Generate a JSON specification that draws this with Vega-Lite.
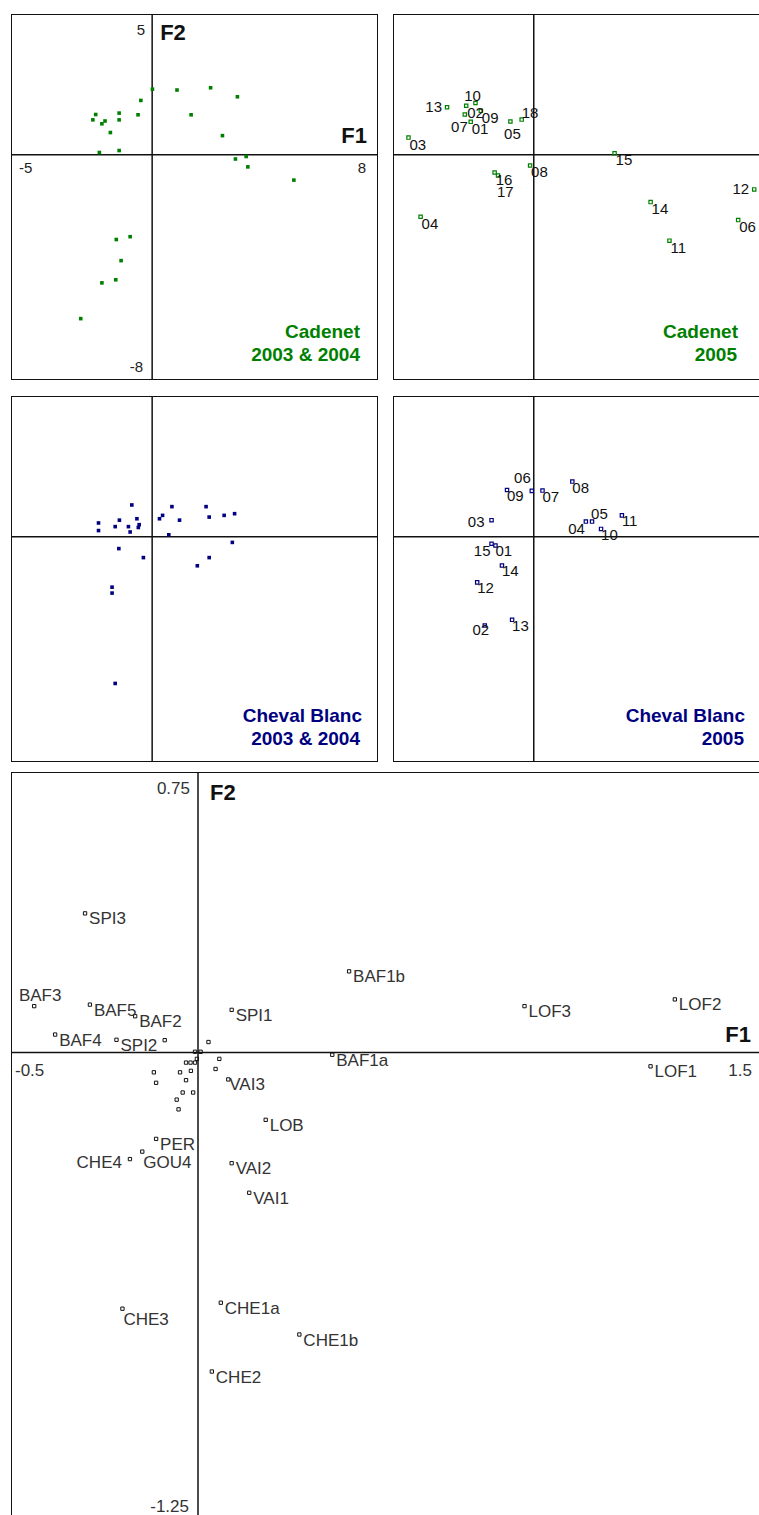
{
"$schema": "https://vega.github.io/schema/vega-lite/v6.json",
"padding": {"left": 11, "top": 14, "right": 0, "bottom": 0},
"background": "white",
"config": {"view": {"stroke": null}},
"spacing": 10,
"datasets": {
"cad0304": [
{"F1":0.01,"F2":2.33},{"F1":0.88,"F2":2.30},{"F1":2.07,"F2":2.38},{"F1":3.02,"F2":2.06},{"F1":-0.40,"F2":1.93},
{"F1":-2.00,"F2":1.43},{"F1":-2.10,"F2":1.24},{"F1":-1.78,"F2":1.10},{"F1":-1.67,"F2":1.20},{"F1":-1.17,"F2":1.48},
{"F1":-1.17,"F2":1.24},{"F1":-0.50,"F2":1.42},{"F1":1.38,"F2":1.42},{"F1":-1.48,"F2":0.79},{"F1":2.49,"F2":0.68},
{"F1":-1.87,"F2":0.08},{"F1":-1.17,"F2":0.15},{"F1":3.33,"F2":-0.06},{"F1":2.95,"F2":-0.15},{"F1":3.39,"F2":-0.43},
{"F1":5.02,"F2":-0.90},{"F1":-1.27,"F2":-3.01},{"F1":-0.78,"F2":-2.91},{"F1":-1.10,"F2":-3.76},{"F1":-1.78,"F2":-4.55},
{"F1":-1.29,"F2":-4.44},{"F1":-2.53,"F2":-5.82}
],
"cad05": [
{"id":"13","F1":-3.08,"F2":1.69},{"id":"10","F1":-2.07,"F2":1.84},{"id":"02","F1":-2.40,"F2":1.74},
{"id":"07","F1":-2.45,"F2":1.43},{"id":"09","F1":-1.88,"F2":1.56},{"id":"01","F1":-2.24,"F2":1.17},
{"id":"05","F1":-0.83,"F2":1.18},{"id":"18","F1":-0.43,"F2":1.25},{"id":"03","F1":-4.45,"F2":0.61},
{"id":"15","F1":2.87,"F2":0.05},{"id":"08","F1":-0.13,"F2":-0.38},{"id":"16","F1":-1.39,"F2":-0.63},
{"id":"17","F1":-1.27,"F2":-0.74},{"id":"04","F1":-4.02,"F2":-2.20},{"id":"12","F1":7.83,"F2":-1.23},
{"id":"14","F1":4.15,"F2":-1.68},{"id":"06","F1":7.26,"F2":-2.32},{"id":"11","F1":4.82,"F2":-3.05}
],
"cb0304": [
{"F1":-0.72,"F2":1.13},{"F1":0.70,"F2":1.07},{"F1":1.91,"F2":1.07},{"F1":0.37,"F2":0.76},{"F1":0.26,"F2":0.64},
{"F1":2.02,"F2":0.70},{"F1":2.55,"F2":0.76},{"F1":2.92,"F2":0.82},{"F1":0.97,"F2":0.59},{"F1":-1.16,"F2":0.59},
{"F1":-0.54,"F2":0.64},{"F1":-0.46,"F2":0.43},{"F1":-0.49,"F2":0.33},{"F1":-1.90,"F2":0.49},{"F1":-1.90,"F2":0.22},
{"F1":-1.31,"F2":0.36},{"F1":-0.84,"F2":0.36},{"F1":-0.78,"F2":0.17},{"F1":0.59,"F2":0.07},{"F1":-1.18,"F2":-0.42},
{"F1":-0.31,"F2":-0.74},{"F1":2.02,"F2":-0.74},{"F1":1.60,"F2":-1.03},{"F1":2.84,"F2":-0.20},{"F1":-1.42,"F2":-1.79},
{"F1":-1.42,"F2":-2.00},{"F1":-1.31,"F2":-5.21}
],
"cb05": [
{"id":"06","F1":-0.07,"F2":1.63},{"id":"09","F1":-0.95,"F2":1.66},{"id":"07","F1":0.31,"F2":1.64},
{"id":"08","F1":1.37,"F2":1.96},{"id":"03","F1":-1.50,"F2":0.59},{"id":"05","F1":2.07,"F2":0.54},
{"id":"04","F1":1.85,"F2":0.54},{"id":"11","F1":3.13,"F2":0.76},{"id":"10","F1":2.39,"F2":0.28},
{"id":"15","F1":-1.50,"F2":-0.25},{"id":"01","F1":-1.36,"F2":-0.31},{"id":"14","F1":-1.13,"F2":-1.02},
{"id":"12","F1":-2.01,"F2":-1.62},{"id":"02","F1":-1.74,"F2":-3.15},{"id":"13","F1":-0.77,"F2":-2.95}
],
"vars": [
{"id":"SPI3","F1":-0.302,"F2":0.372},{"id":"BAF3","F1":-0.438,"F2":0.124},{"id":"BAF5","F1":-0.289,"F2":0.128},
{"id":"BAF2","F1":-0.168,"F2":0.097},{"id":"BAF4","F1":-0.382,"F2":0.048},{"id":"SPI2","F1":-0.218,"F2":0.034},
{"id":"SPI1","F1":0.090,"F2":0.114},
{"id":"BAF1b","F1":0.404,"F2":0.217},{"id":"BAF1a","F1":0.359,"F2":-0.006},{"id":"VAI3","F1":0.081,"F2":-0.072},
{"id":"LOB","F1":0.181,"F2":-0.180},
{"id":"PER","F1":-0.112,"F2":-0.231},{"id":"GOU4","F1":-0.149,"F2":-0.265},{"id":"CHE4","F1":-0.182,"F2":-0.285},
{"id":"VAI2","F1":0.090,"F2":-0.296},{"id":"VAI1","F1":0.137,"F2":-0.375},{"id":"CHE3","F1":-0.202,"F2":-0.685},
{"id":"CHE1a","F1":0.061,"F2":-0.669},{"id":"CHE1b","F1":0.271,"F2":-0.754},{"id":"CHE2","F1":0.037,"F2":-0.853},
{"id":"LOF3","F1":0.873,"F2":0.124},{"id":"LOF2","F1":1.275,"F2":0.142},{"id":"LOF1","F1":1.210,"F2":-0.037}
],
"varsUnlabelled": [
{"F1":-0.089,"F2":0.033},{"F1":0.028,"F2":0.028},
{"F1":-0.008,"F2":0.002},{"F1":0.007,"F2":0.002},{"F1":0.057,"F2":-0.017},
{"F1":0.047,"F2":-0.044},{"F1":-0.032,"F2":-0.027},{"F1":-0.020,"F2":-0.027},
{"F1":-0.008,"F2":-0.027},{"F1":-0.003,"F2":-0.017},{"F1":-0.118,"F2":-0.053},
{"F1":-0.048,"F2":-0.053},{"F1":-0.019,"F2":-0.049},{"F1":-0.112,"F2":-0.081},
{"F1":-0.032,"F2":-0.074},{"F1":-0.041,"F2":-0.107},{"F1":-0.013,"F2":-0.107},
{"F1":-0.057,"F2":-0.126},{"F1":-0.052,"F2":-0.152}
]
},
"vconcat": [
{"vconcat": [
{"hconcat": [
{"width": 367, "height": 366, "layer": [
{"data":{"values":[{}]},"mark":{"type":"rule","color":"#111","strokeWidth":2,"clip":true},"encoding":{"x":{"datum":-5,"type":"quantitative","scale":{"domain":[-5,8],"nice":false,"zero":false},"axis":null}}},
{"data":{"values":[{}]},"mark":{"type":"rule","color":"#111","strokeWidth":2,"clip":true},"encoding":{"x":{"datum":8,"type":"quantitative","axis":null}}},
{"data":{"values":[{}]},"mark":{"type":"rule","color":"#111","strokeWidth":2,"clip":true},"encoding":{"y":{"datum":5,"type":"quantitative","scale":{"domain":[-8,5],"nice":false,"zero":false},"axis":null}}},
{"data":{"values":[{}]},"mark":{"type":"rule","color":"#111","strokeWidth":2,"clip":true},"encoding":{"y":{"datum":-8,"type":"quantitative","axis":null}}},
{"data":{"values":[{}]},"mark":{"type":"rule","color":"#111","strokeWidth":1.5,"clip":true},"encoding":{"x":{"datum":0,"type":"quantitative","axis":null}}},
{"data":{"values":[{}]},"mark":{"type":"rule","color":"#111","strokeWidth":1.5,"clip":true},"encoding":{"y":{"datum":0,"type":"quantitative","axis":null}}},
{"data":{"name":"cad0304"},"mark":{"type":"square","filled":true,"color":"#008000","size":13,"opacity":1,"clip":true},"encoding":{"x":{"field":"F1","type":"quantitative","axis":null},"y":{"field":"F2","type":"quantitative","axis":null}}},
{"data":{"values":[{}]},"mark":{"type":"text","text":"5","align":"right","baseline":"middle","dx":-7,"dy":16,"font":"Liberation Sans","fontSize":15,"color":"#222","clip":true},"encoding":{"x":{"datum":0,"type":"quantitative"},"y":{"datum":5,"type":"quantitative"}}},
{"data":{"values":[{}]},"mark":{"type":"text","text":"F2","align":"left","baseline":"middle","dx":8,"dy":19,"font":"Liberation Sans","fontWeight":"bold","fontSize":22,"color":"#111","clip":true},"encoding":{"x":{"datum":0,"type":"quantitative"},"y":{"datum":5,"type":"quantitative"}}},
{"data":{"values":[{}]},"mark":{"type":"text","text":"F1","align":"right","baseline":"alphabetic","dx":-11,"dy":-12,"font":"Liberation Sans","fontWeight":"bold","fontSize":22,"color":"#111","clip":true},"encoding":{"x":{"datum":8,"type":"quantitative"},"y":{"datum":0,"type":"quantitative"}}},
{"data":{"values":[{}]},"mark":{"type":"text","text":"-5","align":"left","baseline":"alphabetic","dx":8,"dy":18,"font":"Liberation Sans","fontSize":15,"color":"#222","clip":true},"encoding":{"x":{"datum":-5,"type":"quantitative"},"y":{"datum":0,"type":"quantitative"}}},
{"data":{"values":[{}]},"mark":{"type":"text","text":"8","align":"right","baseline":"alphabetic","dx":-12,"dy":18,"font":"Liberation Sans","fontSize":15,"color":"#222","clip":true},"encoding":{"x":{"datum":8,"type":"quantitative"},"y":{"datum":0,"type":"quantitative"}}},
{"data":{"values":[{}]},"mark":{"type":"text","text":"-8","align":"right","baseline":"alphabetic","dx":-9,"dy":-8,"font":"Liberation Sans","fontSize":15,"color":"#222","clip":true},"encoding":{"x":{"datum":0,"type":"quantitative"},"y":{"datum":-8,"type":"quantitative"}}},
{"data":{"values":[{}]},"mark":{"type":"text","text":"Cadenet","align":"right","baseline":"alphabetic","dx":-18,"dy":-42,"font":"Liberation Sans","fontWeight":"bold","fontSize":19,"color":"#008000","clip":true},"encoding":{"x":{"datum":8,"type":"quantitative"},"y":{"datum":-8,"type":"quantitative"}}},
{"data":{"values":[{}]},"mark":{"type":"text","text":"2003 & 2004","align":"right","baseline":"alphabetic","dx":-18,"dy":-19,"font":"Liberation Sans","fontWeight":"bold","fontSize":19,"color":"#008000","clip":true},"encoding":{"x":{"datum":8,"type":"quantitative"},"y":{"datum":-8,"type":"quantitative"}}}
]},
{"width": 366, "height": 366, "layer": [
{"data":{"values":[{}]},"mark":{"type":"rule","color":"#111","strokeWidth":2,"clip":true},"encoding":{"x":{"datum":-5,"type":"quantitative","scale":{"domain":[-5,8],"nice":false,"zero":false},"axis":null}}},
{"data":{"values":[{}]},"mark":{"type":"rule","color":"#111","strokeWidth":2,"clip":true},"encoding":{"y":{"datum":5,"type":"quantitative","scale":{"domain":[-8,5],"nice":false,"zero":false},"axis":null}}},
{"data":{"values":[{}]},"mark":{"type":"rule","color":"#111","strokeWidth":2,"clip":true},"encoding":{"y":{"datum":-8,"type":"quantitative","axis":null}}},
{"data":{"values":[{}]},"mark":{"type":"rule","color":"#111","strokeWidth":1.5,"clip":true},"encoding":{"x":{"datum":0,"type":"quantitative","axis":null}}},
{"data":{"values":[{}]},"mark":{"type":"rule","color":"#111","strokeWidth":1.5,"clip":true},"encoding":{"y":{"datum":0,"type":"quantitative","axis":null}}},
{"data":{"name":"cad05"},"mark":{"type":"square","filled":false,"color":"#008000","size":11,"strokeWidth":1.2,"opacity":1,"clip":true},"encoding":{"x":{"field":"F1","type":"quantitative","axis":null},"y":{"field":"F2","type":"quantitative","axis":null}}},
{"data":{"name":"cad05"},"transform":[{"filter":{"not":{"field":"id","oneOf":["13","12","10","18","05","17","07"]}}}],"mark":{"type":"text","align":"left","baseline":"top","dx":1,"dy":0,"font":"Liberation Sans","fontSize":15,"color":"#111","clip":true},"encoding":{"x":{"field":"F1","type":"quantitative"},"y":{"field":"F2","type":"quantitative"},"text":{"field":"id"}}},
{"data":{"name":"cad05"},"transform":[{"filter":{"field":"id","oneOf":["13","12"]}}],"mark":{"type":"text","align":"right","baseline":"middle","dx":-5,"dy":0,"font":"Liberation Sans","fontSize":15,"color":"#111","clip":true},"encoding":{"x":{"field":"F1","type":"quantitative"},"y":{"field":"F2","type":"quantitative"},"text":{"field":"id"}}},
{"data":{"name":"cad05"},"transform":[{"filter":{"field":"id","oneOf":["10"]}}],"mark":{"type":"text","align":"center","baseline":"alphabetic","dx":-3,"dy":-2,"font":"Liberation Sans","fontSize":15,"color":"#111","clip":true},"encoding":{"x":{"field":"F1","type":"quantitative"},"y":{"field":"F2","type":"quantitative"},"text":{"field":"id"}}},
{"data":{"name":"cad05"},"transform":[{"filter":{"field":"id","oneOf":["18"]}}],"mark":{"type":"text","align":"left","baseline":"alphabetic","dx":0,"dy":-2,"font":"Liberation Sans","fontSize":15,"color":"#111","clip":true},"encoding":{"x":{"field":"F1","type":"quantitative"},"y":{"field":"F2","type":"quantitative"},"text":{"field":"id"}}},
{"data":{"name":"cad05"},"transform":[{"filter":{"field":"id","oneOf":["05"]}}],"mark":{"type":"text","align":"center","baseline":"top","dx":2,"dy":5,"font":"Liberation Sans","fontSize":15,"color":"#111","clip":true},"encoding":{"x":{"field":"F1","type":"quantitative"},"y":{"field":"F2","type":"quantitative"},"text":{"field":"id"}}},
{"data":{"name":"cad05"},"transform":[{"filter":{"field":"id","oneOf":["17"]}}],"mark":{"type":"text","align":"left","baseline":"top","dx":-1,"dy":9,"font":"Liberation Sans","fontSize":15,"color":"#111","clip":true},"encoding":{"x":{"field":"F1","type":"quantitative"},"y":{"field":"F2","type":"quantitative"},"text":{"field":"id"}}},
{"data":{"name":"cad05"},"transform":[{"filter":{"field":"id","oneOf":["07"]}}],"mark":{"type":"text","align":"right","baseline":"top","dx":3,"dy":5,"font":"Liberation Sans","fontSize":15,"color":"#111","clip":true},"encoding":{"x":{"field":"F1","type":"quantitative"},"y":{"field":"F2","type":"quantitative"},"text":{"field":"id"}}},
{"data":{"values":[{}]},"mark":{"type":"text","text":"Cadenet","align":"right","baseline":"alphabetic","dx":-21,"dy":-42,"font":"Liberation Sans","fontWeight":"bold","fontSize":19,"color":"#008000","clip":true},"encoding":{"x":{"datum":8,"type":"quantitative"},"y":{"datum":-8,"type":"quantitative"}}},
{"data":{"values":[{}]},"mark":{"type":"text","text":"2005","align":"right","baseline":"alphabetic","dx":-22,"dy":-19,"font":"Liberation Sans","fontWeight":"bold","fontSize":19,"color":"#008000","clip":true},"encoding":{"x":{"datum":8,"type":"quantitative"},"y":{"datum":-8,"type":"quantitative"}}}
]}
], "spacing": 15},
{"hconcat": [
{"width": 367, "height": 366, "layer": [
{"data":{"values":[{}]},"mark":{"type":"rule","color":"#111","strokeWidth":2,"clip":true},"encoding":{"x":{"datum":-5,"type":"quantitative","scale":{"domain":[-5,8],"nice":false,"zero":false},"axis":null}}},
{"data":{"values":[{}]},"mark":{"type":"rule","color":"#111","strokeWidth":2,"clip":true},"encoding":{"x":{"datum":8,"type":"quantitative","axis":null}}},
{"data":{"values":[{}]},"mark":{"type":"rule","color":"#111","strokeWidth":2,"clip":true},"encoding":{"y":{"datum":5,"type":"quantitative","scale":{"domain":[-8,5],"nice":false,"zero":false},"axis":null}}},
{"data":{"values":[{}]},"mark":{"type":"rule","color":"#111","strokeWidth":2,"clip":true},"encoding":{"y":{"datum":-8,"type":"quantitative","axis":null}}},
{"data":{"values":[{}]},"mark":{"type":"rule","color":"#111","strokeWidth":1.5,"clip":true},"encoding":{"x":{"datum":0,"type":"quantitative","axis":null}}},
{"data":{"values":[{}]},"mark":{"type":"rule","color":"#111","strokeWidth":1.5,"clip":true},"encoding":{"y":{"datum":0,"type":"quantitative","axis":null}}},
{"data":{"name":"cb0304"},"mark":{"type":"square","filled":true,"color":"#000080","size":13,"opacity":1,"clip":true},"encoding":{"x":{"field":"F1","type":"quantitative","axis":null},"y":{"field":"F2","type":"quantitative","axis":null}}},
{"data":{"values":[{}]},"mark":{"type":"text","text":"Cheval Blanc","align":"right","baseline":"alphabetic","dx":-16,"dy":-40,"font":"Liberation Sans","fontWeight":"bold","fontSize":19,"color":"#000080","clip":true},"encoding":{"x":{"datum":8,"type":"quantitative"},"y":{"datum":-8,"type":"quantitative"}}},
{"data":{"values":[{}]},"mark":{"type":"text","text":"2003 & 2004","align":"right","baseline":"alphabetic","dx":-18,"dy":-17,"font":"Liberation Sans","fontWeight":"bold","fontSize":19,"color":"#000080","clip":true},"encoding":{"x":{"datum":8,"type":"quantitative"},"y":{"datum":-8,"type":"quantitative"}}}
]},
{"width": 366, "height": 366, "layer": [
{"data":{"values":[{}]},"mark":{"type":"rule","color":"#111","strokeWidth":2,"clip":true},"encoding":{"x":{"datum":-5,"type":"quantitative","scale":{"domain":[-5,8],"nice":false,"zero":false},"axis":null}}},
{"data":{"values":[{}]},"mark":{"type":"rule","color":"#111","strokeWidth":2,"clip":true},"encoding":{"y":{"datum":5,"type":"quantitative","scale":{"domain":[-8,5],"nice":false,"zero":false},"axis":null}}},
{"data":{"values":[{}]},"mark":{"type":"rule","color":"#111","strokeWidth":2,"clip":true},"encoding":{"y":{"datum":-8,"type":"quantitative","axis":null}}},
{"data":{"values":[{}]},"mark":{"type":"rule","color":"#111","strokeWidth":1.5,"clip":true},"encoding":{"x":{"datum":0,"type":"quantitative","axis":null}}},
{"data":{"values":[{}]},"mark":{"type":"rule","color":"#111","strokeWidth":1.5,"clip":true},"encoding":{"y":{"datum":0,"type":"quantitative","axis":null}}},
{"data":{"name":"cb05"},"mark":{"type":"square","filled":false,"color":"#000080","size":11,"strokeWidth":1.2,"opacity":1,"clip":true},"encoding":{"x":{"field":"F1","type":"quantitative","axis":null},"y":{"field":"F2","type":"quantitative","axis":null}}},
{"data":{"name":"cb05"},"transform":[{"filter":{"not":{"field":"id","oneOf":["06","03","05","04","15","02"]}}}],"mark":{"type":"text","align":"left","baseline":"top","dx":0,"dy":-1,"font":"Liberation Sans","fontSize":15,"color":"#111","clip":true},"encoding":{"x":{"field":"F1","type":"quantitative"},"y":{"field":"F2","type":"quantitative"},"text":{"field":"id"}}},
{"data":{"name":"cb05"},"transform":[{"filter":{"field":"id","oneOf":["06"]}}],"mark":{"type":"text","align":"right","baseline":"alphabetic","dx":-1,"dy":-8,"font":"Liberation Sans","fontSize":15,"color":"#111","clip":true},"encoding":{"x":{"field":"F1","type":"quantitative"},"y":{"field":"F2","type":"quantitative"},"text":{"field":"id"}}},
{"data":{"name":"cb05"},"transform":[{"filter":{"field":"id","oneOf":["03"]}}],"mark":{"type":"text","align":"right","baseline":"middle","dx":-7,"dy":2,"font":"Liberation Sans","fontSize":15,"color":"#111","clip":true},"encoding":{"x":{"field":"F1","type":"quantitative"},"y":{"field":"F2","type":"quantitative"},"text":{"field":"id"}}},
{"data":{"name":"cb05"},"transform":[{"filter":{"field":"id","oneOf":["05"]}}],"mark":{"type":"text","align":"left","baseline":"alphabetic","dx":-1,"dy":-3,"font":"Liberation Sans","fontSize":15,"color":"#111","clip":true},"encoding":{"x":{"field":"F1","type":"quantitative"},"y":{"field":"F2","type":"quantitative"},"text":{"field":"id"}}},
{"data":{"name":"cb05"},"transform":[{"filter":{"field":"id","oneOf":["04","15"]}}],"mark":{"type":"text","align":"right","baseline":"top","dx":-1,"dy":0,"font":"Liberation Sans","fontSize":15,"color":"#111","clip":true},"encoding":{"x":{"field":"F1","type":"quantitative"},"y":{"field":"F2","type":"quantitative"},"text":{"field":"id"}}},
{"data":{"name":"cb05"},"transform":[{"filter":{"field":"id","oneOf":["02"]}}],"mark":{"type":"text","align":"center","baseline":"top","dx":-4,"dy":-2,"font":"Liberation Sans","fontSize":15,"color":"#111","clip":true},"encoding":{"x":{"field":"F1","type":"quantitative"},"y":{"field":"F2","type":"quantitative"},"text":{"field":"id"}}},
{"data":{"values":[{}]},"mark":{"type":"text","text":"Cheval Blanc","align":"right","baseline":"alphabetic","dx":-14,"dy":-40,"font":"Liberation Sans","fontWeight":"bold","fontSize":19,"color":"#000080","clip":true},"encoding":{"x":{"datum":8,"type":"quantitative"},"y":{"datum":-8,"type":"quantitative"}}},
{"data":{"values":[{}]},"mark":{"type":"text","text":"2005","align":"right","baseline":"alphabetic","dx":-15,"dy":-17,"font":"Liberation Sans","fontWeight":"bold","fontSize":19,"color":"#000080","clip":true},"encoding":{"x":{"datum":8,"type":"quantitative"},"y":{"datum":-8,"type":"quantitative"}}}
]}
], "spacing": 15}
], "spacing": 16},
{"width": 748, "height": 743, "layer": [
{"data":{"values":[{}]},"mark":{"type":"rule","color":"#111","strokeWidth":2,"clip":true},"encoding":{"x":{"datum":-0.5,"type":"quantitative","scale":{"domain":[-0.5,1.5],"nice":false,"zero":false},"axis":null}}},
{"data":{"values":[{}]},"mark":{"type":"rule","color":"#111","strokeWidth":2,"clip":true},"encoding":{"y":{"datum":0.75,"type":"quantitative","scale":{"domain":[-1.2366,0.75],"nice":false,"zero":false},"axis":null}}},
{"data":{"values":[{}]},"mark":{"type":"rule","color":"#111","strokeWidth":1.5,"clip":true},"encoding":{"x":{"datum":0,"type":"quantitative","axis":null}}},
{"data":{"values":[{}]},"mark":{"type":"rule","color":"#111","strokeWidth":1.5,"clip":true},"encoding":{"y":{"datum":0,"type":"quantitative","axis":null}}},
{"data":{"name":"varsUnlabelled"},"mark":{"type":"square","filled":false,"color":"#111","size":11,"strokeWidth":1,"opacity":1,"clip":true},"encoding":{"x":{"field":"F1","type":"quantitative","axis":null},"y":{"field":"F2","type":"quantitative","axis":null}}},
{"data":{"name":"vars"},"mark":{"type":"square","filled":false,"color":"#111","size":11,"strokeWidth":1,"opacity":1,"clip":true},"encoding":{"x":{"field":"F1","type":"quantitative","axis":null},"y":{"field":"F2","type":"quantitative","axis":null}}},
{"data":{"name":"vars"},"transform":[{"filter":{"not":{"field":"id","oneOf":["BAF3","CHE4","GOU4","CHE3","VAI3"]}}}],"mark":{"type":"text","align":"left","baseline":"top","dx":4,"dy":-2,"font":"Liberation Sans","fontSize":17,"color":"#333","clip":true},"encoding":{"x":{"field":"F1","type":"quantitative"},"y":{"field":"F2","type":"quantitative"},"text":{"field":"id"}}},
{"data":{"name":"vars"},"transform":[{"filter":{"field":"id","oneOf":["VAI3"]}}],"mark":{"type":"text","align":"left","baseline":"top","dx":1,"dy":-2,"font":"Liberation Sans","fontSize":17,"color":"#333","clip":true},"encoding":{"x":{"field":"F1","type":"quantitative"},"y":{"field":"F2","type":"quantitative"},"text":{"field":"id"}}},
{"data":{"name":"vars"},"transform":[{"filter":{"field":"id","oneOf":["BAF3"]}}],"mark":{"type":"text","align":"center","baseline":"alphabetic","dx":6,"dy":-5,"font":"Liberation Sans","fontSize":17,"color":"#333","clip":true},"encoding":{"x":{"field":"F1","type":"quantitative"},"y":{"field":"F2","type":"quantitative"},"text":{"field":"id"}}},
{"data":{"name":"vars"},"transform":[{"filter":{"field":"id","oneOf":["CHE4"]}}],"mark":{"type":"text","align":"right","baseline":"top","dx":-8,"dy":-4,"font":"Liberation Sans","fontSize":17,"color":"#333","clip":true},"encoding":{"x":{"field":"F1","type":"quantitative"},"y":{"field":"F2","type":"quantitative"},"text":{"field":"id"}}},
{"data":{"name":"vars"},"transform":[{"filter":{"field":"id","oneOf":["GOU4","CHE3"]}}],"mark":{"type":"text","align":"left","baseline":"top","dx":1,"dy":3,"font":"Liberation Sans","fontSize":17,"color":"#333","clip":true},"encoding":{"x":{"field":"F1","type":"quantitative"},"y":{"field":"F2","type":"quantitative"},"text":{"field":"id"}}},
{"data":{"values":[{}]},"mark":{"type":"text","text":"0.75","align":"right","baseline":"middle","dx":-8,"dy":17,"font":"Liberation Sans","fontSize":17,"color":"#333","clip":true},"encoding":{"x":{"datum":0,"type":"quantitative"},"y":{"datum":0.75,"type":"quantitative"}}},
{"data":{"values":[{}]},"mark":{"type":"text","text":"F2","align":"left","baseline":"middle","dx":12,"dy":21,"font":"Liberation Sans","fontWeight":"bold","fontSize":22,"color":"#111","clip":true},"encoding":{"x":{"datum":0,"type":"quantitative"},"y":{"datum":0.75,"type":"quantitative"}}},
{"data":{"values":[{}]},"mark":{"type":"text","text":"-0.5","align":"left","baseline":"alphabetic","dx":4,"dy":23,"font":"Liberation Sans","fontSize":17,"color":"#333","clip":true},"encoding":{"x":{"datum":-0.5,"type":"quantitative"},"y":{"datum":0,"type":"quantitative"}}},
{"data":{"values":[{}]},"mark":{"type":"text","text":"1.5","align":"right","baseline":"alphabetic","dx":-7,"dy":23,"font":"Liberation Sans","fontSize":17,"color":"#333","clip":true},"encoding":{"x":{"datum":1.5,"type":"quantitative"},"y":{"datum":0,"type":"quantitative"}}},
{"data":{"values":[{}]},"mark":{"type":"text","text":"F1","align":"right","baseline":"alphabetic","dx":-8,"dy":-11,"font":"Liberation Sans","fontWeight":"bold","fontSize":22,"color":"#111","clip":true},"encoding":{"x":{"datum":1.5,"type":"quantitative"},"y":{"datum":0,"type":"quantitative"}}},
{"data":{"values":[{}]},"mark":{"type":"text","text":"-1.25","align":"right","baseline":"alphabetic","dx":-9,"dy":-8,"font":"Liberation Sans","fontSize":17,"color":"#333","clip":true},"encoding":{"x":{"datum":0,"type":"quantitative"},"y":{"datum":-1.25,"type":"quantitative"}}}
]}
]
}
